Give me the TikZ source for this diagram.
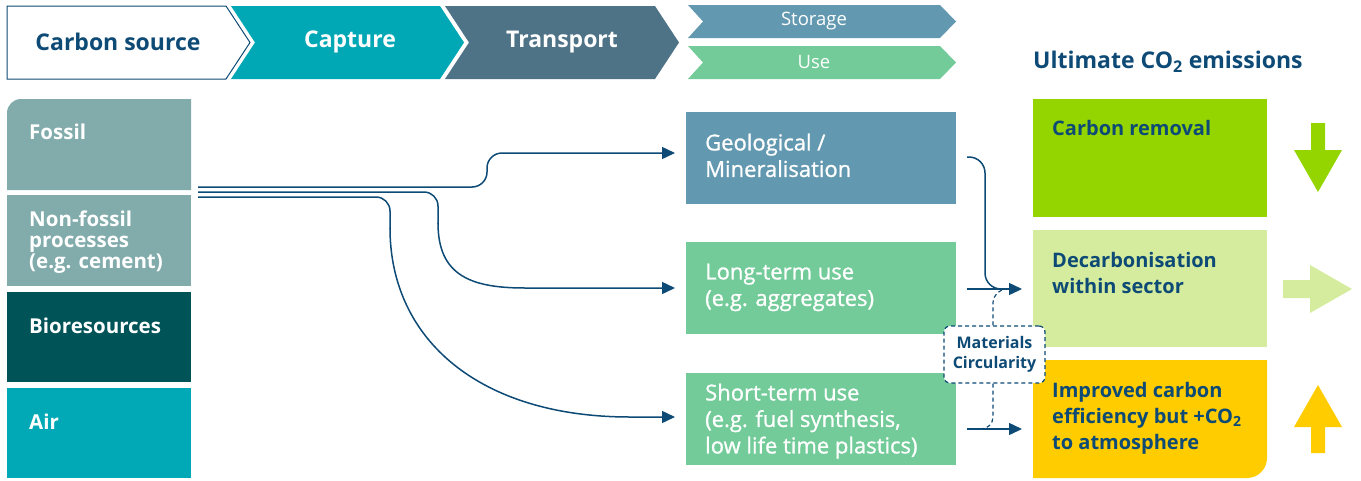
\documentclass[tikz,border=0pt]{standalone}
\usepackage{fontspec}
\setmainfont{Open Sans}
\newfontfamily\semib{Open Sans}[FakeBold=1.0]
\usetikzlibrary{arrows.meta}
\definecolor{navy}{HTML}{0D4A75}
\definecolor{capc}{HTML}{00A8B5}
\definecolor{trac}{HTML}{4F7386}
\definecolor{stoc}{HTML}{6399B0}
\definecolor{usec}{HTML}{72CB98}
\definecolor{fosc}{HTML}{82ABAB}
\definecolor{bioc}{HTML}{005357}
\definecolor{airc}{HTML}{00A9B5}
\definecolor{remc}{HTML}{94D500}
\definecolor{decc}{HTML}{D5EC9E}
\definecolor{impc}{HTML}{FFCC00}
\tikzset{
  box/.style={draw=none, anchor=north west, inner sep=0pt, outer sep=0pt},
  lefttxt/.style={anchor=north west, inner sep=0pt, align=left, text=white,
     font=\fontsize{20.5}{20.8}\selectfont\bfseries},
  midtxt/.style={anchor=north west, inner sep=0pt, align=left, text=white,
     font=\fontsize{22}{26.5}\selectfont\semib},
  righttxt/.style={anchor=north west, inner sep=0pt, align=left, text=navy,
     font=\fontsize{20}{26}\selectfont\bfseries},
  headtxt/.style={inner sep=0pt, font=\fontsize{23}{25}\selectfont\bfseries},
  conn/.style={draw=navy, line width=1.5pt},
  arr/.style={conn, -{Triangle[length=13pt,width=12pt]}},
  dashc/.style={draw=navy, line width=1.2pt, dash pattern=on 4pt off 3pt},
}
\begin{document}
\begin{tikzpicture}[x=1pt,y=-1pt]
\useasboundingbox (0,0) rectangle (1361,480);
% top chevrons
\draw[navy, line width=1pt, fill=white] (7,6) -- (226,6) -- (250,42.5) -- (226,79) -- (7,79) -- cycle;
\fill[capc] (231,6) -- (440,6) -- (464,42.5) -- (440,79) -- (231,79) -- (255,42.5) -- cycle;
\fill[trac] (445,6) -- (655,6) -- (679,42.5) -- (655,79) -- (445,79) -- (469,42.5) -- cycle;
\fill[stoc] (688,5) -- (940,5) -- (956,21.5) -- (940,38) -- (688,38) -- (703,21.5) -- cycle;
\fill[usec] (688,46) -- (940,46) -- (956,62.5) -- (940,79) -- (688,79) -- (703,62.5) -- cycle;
\node[headtxt, text=navy] (hsrc) at (118,42) {Carbon source};
\node[headtxt, text=white] (hcap) at (350,42) {Capture};
\node[headtxt, text=white] (htra) at (562,42) {Transport};
\node[inner sep=0pt, text=white, font=\fontsize{18.5}{20}\selectfont] (hsto) at (814,21) {Storage};
\node[inner sep=0pt, text=white, font=\fontsize{18.5}{20}\selectfont] (huse) at (814,62) {Use};
\node[headtxt, text=navy, anchor=west] (hult) at (1033,62) {Ultimate CO\textsubscript{2} emissions};
% left boxes
\fill[fosc] (7,190) -- (7,113) arc[start angle=180, end angle=270, radius=14] -- (191,99) -- (191,190) -- cycle;
\node[box, fill=fosc, minimum width=184pt, minimum height=91pt] (nonfos) at (7,195) {};
\node[box, fill=bioc, minimum width=184pt, minimum height=90pt] (bio) at (7,292) {};
\node[box, fill=airc, minimum width=184pt, minimum height=90pt] (air) at (7,388) {};
\node[lefttxt] (tfos) at (29,124) {Fossil};
\node[lefttxt] (tnon) at (29,211) {Non-fossil\\processes\\(e.g. cement)};
\node[lefttxt] (tbio) at (29,318) {Bioresources};
\node[lefttxt] (tair) at (29,414) {Air};
% middle boxes
\node[box, fill=stoc, minimum width=270pt, minimum height=92pt] (geo) at (686,112) {};
\node[box, fill=usec, minimum width=270pt, minimum height=92pt] (long) at (686,242) {};
\node[box, fill=usec, minimum width=270pt, minimum height=92pt] (short) at (686,373) {};
\node[midtxt] (tgeo) at (705,133.5) {Geological /\\Mineralisation};
\node[midtxt] (tlong) at (705,263.5) {Long-term use\\(e.g. aggregates)};
\node[midtxt] (tshort) at (705,383.5) {Short-term use\\(e.g. fuel synthesis,\\low life time plastics)};
% right boxes
\node[box, fill=remc, minimum width=234pt, minimum height=118pt] (rem) at (1033,99) {};
\node[box, fill=decc, minimum width=234pt, minimum height=117pt] (dec) at (1033,230) {};
\fill[impc] (1033,360) -- (1267,360) -- (1267,458) arc[start angle=0, end angle=90, radius=20] -- (1033,478) -- cycle;
\node[righttxt] (trem) at (1052,120) {Carbon removal};
\node[righttxt] (tdec) at (1052,252) {Decarbonisation\\within sector};
\node[righttxt] (timp) at (1052,382) {Improved carbon\\efficiency but +CO\textsubscript{2}\\to atmosphere};
% big arrows
\fill[remc] (1311,123) -- (1325,123) -- (1325,150) -- (1342,150) -- (1318,192) -- (1294,150) -- (1311,150) -- cycle;
\fill[decc] (1283,280) -- (1310,280) -- (1310,265) -- (1352,289) -- (1310,313) -- (1310,298) -- (1283,298) -- cycle;
\fill[impc] (1311,453) -- (1325,453) -- (1325,427) -- (1342,427) -- (1318,385) -- (1294,427) -- (1311,427) -- cycle;
% connectors from sources
\coordinate (s1) at (198,187);
\coordinate (s2) at (198,192);
\coordinate (s3) at (198,197);
\coordinate (g1) at ([xshift=-11pt]geo.west |- 0,153);
\coordinate (l1) at ([xshift=-11pt]long.west |- 0,288);
\coordinate (h1) at ([xshift=-11pt]short.west |- 0,417);
\draw[arr, rounded corners=15pt] (s1) -- (487,187) -- (487,153) -- (g1);
\draw[conn, rounded corners=14pt] (s2) -- (438,192) -- (438,224);
\draw[arr] (438,223) .. controls (438,275) and (470,288) .. (525,288) -- (l1);
\draw[conn, rounded corners=14pt] (s3) -- (390,197) -- (390,229);
\draw[arr] (390,228) .. controls (390,340) and (480,417) .. (630,417) -- (h1);
% connectors to outcomes
\coordinate (d1) at (1022,289);
\coordinate (i1) at (1022,429);
\draw[conn, rounded corners=16pt] (967,157) -- (985,157) -- (985,289) -- (1010,289);
\draw[arr] (967,289) -- (d1);
\draw[arr] (967,429) -- (i1);
% materials circularity
\node[draw=navy, line width=1.2pt, dash pattern=on 4pt off 3pt, rounded corners=6pt, fill=white,
  minimum width=101pt, minimum height=57pt, inner sep=0pt, align=center, text=navy,
  font=\fontsize{16}{20}\selectfont\bfseries] (mc) at (994.5,354.5) {Materials\\Circularity};
\draw[dashc, rounded corners=14pt] (mc.north -| 993,0) -- (993,289) -- (1008,289);
\draw[dashc, rounded corners=12pt] (mc.south -| 993,0) -- (993,429) -- (980,429);
\end{tikzpicture}
\end{document}
